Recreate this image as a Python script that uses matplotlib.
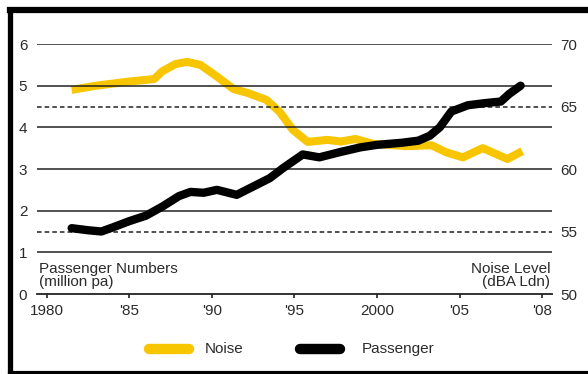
import matplotlib.pyplot as plt
from matplotlib.lines import Line2D

plt.rcParams['font.family'] = ['Liberation Sans', 'DejaVu Sans']

# passenger numbers (million per annum)
pax_year = [1981.5, 1982.5, 1983.3, 1984, 1985, 1986, 1987, 1988, 1988.7, 1989.5,
            1990.3, 1991.5, 1992.5, 1993.5, 1994.3, 1995.5, 1996.5, 1997.8, 1999,
            2000, 2001.5, 2002.5, 2003.2, 2003.8, 2004.5, 2005.5, 2006.5, 2007.5,
            2008, 2008.7]
pax = [1.58, 1.53, 1.50, 1.60, 1.75, 1.88, 2.10, 2.35, 2.45, 2.43,
       2.50, 2.38, 2.58, 2.78, 3.02, 3.35, 3.28, 3.41, 3.52,
       3.58, 3.63, 3.68, 3.80, 4.00, 4.38, 4.53, 4.58, 4.62,
       4.80, 5.00]

# noise level (dBA Ldn)
noise_year = [1981.5, 1983, 1985, 1986.5, 1987, 1987.8, 1988.5, 1989.3, 1990.3,
              1991.3, 1992.2, 1993.3, 1994.1, 1994.9, 1995.8, 1997, 1997.8, 1998.7,
              1999.8, 2001.8, 2003.3, 2004.2, 2005.2, 2006.4, 2007.9, 2008.8]
noise = [66.33, 66.67, 67.0, 67.2, 67.83, 68.4, 68.57, 68.33, 67.4,
         66.4, 66.07, 65.53, 64.57, 63.13, 62.17, 62.33, 62.2, 62.4,
         62.0, 61.83, 61.9, 61.33, 60.93, 61.67, 60.8, 61.43]

tick_years = [1980, 1985, 1990, 1995, 2000, 2005, 2010]
tick_labels = ['1980', "'85", "'90", "'95", '2000', "'05", "'08"]

YELLOW = '#f7c600'
TXT = '#2b2b2b'
FS = 11

fig = plt.figure(figsize=(5.88, 3.74), dpi=100)
ax = fig.add_axes([0.0629, 0.2139, 0.8759, 0.6684])
ax2 = ax.twinx()

ax.set_xlim(1979.4, 2010.6)
ax.set_ylim(0, 6)
ax2.set_ylim(50, 70)

# horizontal rules, dashed at 1.5 / 4.5
for y in [1, 2, 3, 4, 5, 6]:
    ax.axhline(y, color='#222222', lw=1.1, zorder=1)
for y in [1.5, 4.5]:
    ax.axhline(y, color='#222222', lw=1.1, ls=(0, (3, 2)), zorder=1)

ax.plot(pax_year, pax, color='black', lw=6, solid_capstyle='round',
        solid_joinstyle='round', zorder=3)
ax2.plot(noise_year, noise, color=YELLOW, lw=5.8, solid_capstyle='butt',
         solid_joinstyle='round', zorder=2)
ax.set_zorder(ax2.get_zorder() + 1)
ax.patch.set_visible(False)

for a in (ax, ax2):
    for s in ['top', 'left', 'right', 'bottom']:
        a.spines[s].set_visible(False)
ax.axhline(0, color='#222222', lw=1.3, zorder=1, clip_on=False)

ax.set_yticks([0, 1, 2, 3, 4, 5, 6])
ax.tick_params(axis='y', length=0, pad=7, labelsize=FS, labelcolor=TXT)
ax2.set_yticks([50, 55, 60, 65, 70])
ax2.tick_params(axis='y', length=0, pad=6, labelsize=FS, labelcolor=TXT)

ax.set_xticks(tick_years)
ax.set_xticklabels(tick_labels)
ax.tick_params(axis='x', direction='out', length=3, width=1.2, color='#222222',
               pad=4, labelsize=FS, labelcolor=TXT)

ax.text(0.003, 0.02, 'Passenger Numbers\n(million pa)', transform=ax.transAxes,
        ha='left', va='bottom', fontsize=FS, color=TXT, linespacing=0.95)
ax.text(0.997, 0.02, 'Noise Level\n(dBA Ldn)', transform=ax.transAxes,
        ha='right', va='bottom', fontsize=FS, color=TXT, linespacing=0.95,
        multialignment='right')

# legend drawn as bars below the chart
W, H = 588, 374
def fx(px):
    return px / W
def fy(py):
    return 1 - py / H

fig.add_artist(Line2D([fx(149), fx(189)], [fy(349), fy(349)], color=YELLOW,
                      lw=7.5, solid_capstyle='round'))
fig.text(fx(205), fy(349), 'Noise', ha='left', va='center', fontsize=FS, color=TXT)
fig.add_artist(Line2D([fx(300), fx(340)], [fy(349), fy(349)], color='black',
                      lw=7.5, solid_capstyle='round'))
fig.text(fx(362), fy(349), 'Passenger', ha='left', va='center', fontsize=FS, color=TXT)

# frame
fig.add_artist(Line2D([fx(9.5), fx(588)], [fy(9.5), fy(9.5)], color='black', lw=4.5))
fig.add_artist(Line2D([fx(9.5), fx(9.5)], [fy(9.5), fy(372.5)], color='black', lw=3.8))
fig.add_artist(Line2D([fx(9.5), fx(588)], [fy(372.5), fy(372.5)], color='black', lw=3))

fig.savefig('out.png', dpi=100)
